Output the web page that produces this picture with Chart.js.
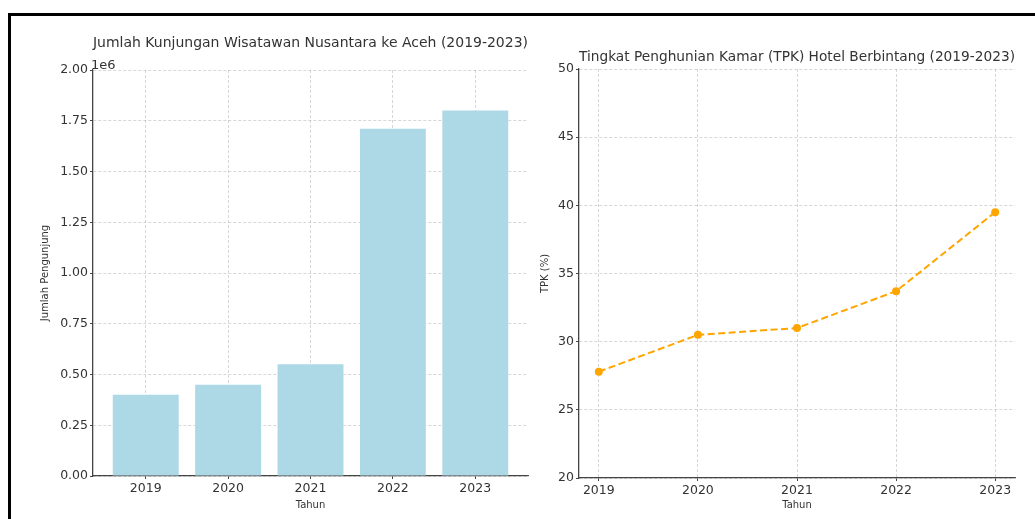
<!DOCTYPE html>
<html>
<head>
<meta charset="utf-8">
<script src="https://cdn.jsdelivr.net/npm/chart.js@4"></script>
<style>
  body { margin: 0; background: #fff; }
  #frame { position: absolute; left: 8px; top: 13px; width: 1100px; height: 600px;
           border-top: 3px solid #000; border-left: 3px solid #000; }
  #left { position: absolute; left: 0; top: 0; }
  #right { position: absolute; left: 530px; top: 0; }
</style>
</head>
<body>
<div id="frame"></div>
<canvas id="left" width="530" height="519"></canvas>
<canvas id="right" width="505" height="519"></canvas>
<script>
// data
const years = ['2019', '2020', '2021', '2022', '2023'];
const visitors = [400000, 450000, 550000, 1710000, 1800000];
const tpk = [27.8, 30.5, 31.0, 33.7, 39.5];
const visitorTicks = [0, 250000, 500000, 750000, 1000000, 1250000, 1500000, 1750000, 2000000];
const tpkTicks = [20, 25, 30, 35, 40, 45, 50];

const font = 'DejaVu Sans';
const textColor = '#333';
const gridColor = 'rgba(170,170,170,0.6)';

Chart.defaults.font.family = font;
Chart.defaults.color = textColor;
Chart.defaults.animation = false;

// matplotlib style offset text "1e6"
const offsetText = {
  id: 'offsetText',
  afterDraw(chart) {
    if (chart.canvas.id !== 'left') return;
    const ctx = chart.ctx;
    ctx.save();
    ctx.font = '13px "' + font + '"';
    ctx.fillStyle = textColor;
    ctx.textAlign = 'left';
    ctx.textBaseline = 'alphabetic';
    ctx.fillText('1e6', chart.chartArea.left - 2, chart.chartArea.top - 1);
    ctx.restore();
  }
};

function xAxis(min, max, h) {
  return {
    type: 'linear',
    min: min,
    max: max,
    offset: false,
    z: 1,
    afterBuildTicks: s => { s.ticks = years.map((_, i) => ({ value: i })); },
    afterFit: s => { s.height = h; },
    ticks: { callback: v => years[v], font: { size: 12.5 }, padding: 2, color: textColor },
    grid: { offset: false, color: gridColor, lineWidth: 0.8, drawTicks: true, tickLength: 3,
            tickColor: '#444', tickBorderDash: [], tickWidth: 1 },
    border: { display: true, color: '#444', width: 1.3, dash: [3, 2] },
    title: { display: true, text: 'Tahun', font: { size: 10 }, padding: { top: 0, bottom: 8 } }
  };
}

function yAxis(min, max, ticks, fmt, label, titlePad, width) {
  return {
    min: min,
    max: max,
    z: 1,
    afterBuildTicks: s => { s.ticks = ticks.map(v => ({ value: v })); },
    afterFit: s => { s.width = width; },
    ticks: { callback: fmt, font: { size: 12.5 }, padding: 2, color: textColor },
    grid: { color: gridColor, lineWidth: 0.8, drawTicks: true, tickLength: 3,
            tickColor: '#444', tickBorderDash: [], tickWidth: 1 },
    border: { display: true, color: '#444', width: 1.3, dash: [3, 2] },
    title: { display: true, text: label, font: { size: 10 }, padding: { top: titlePad, bottom: 0 } }
  };
}

new Chart(document.getElementById('left'), {
  type: 'bar',
  data: {
    datasets: [{
      data: visitors.map((v, i) => ({ x: i, y: v })),
      backgroundColor: '#ADD8E6',
      barPercentage: 0.8,
      categoryPercentage: 1
    }]
  },
  options: {
    responsive: false,
    devicePixelRatio: 1,
    layout: { padding: { left: 0, right: 2, top: 0, bottom: 0 } },
    plugins: {
      legend: { display: false },
      tooltip: { enabled: false },
      title: {
        display: true, fullSize: false,
        text: 'Jumlah Kunjungan Wisatawan Nusantara ke Aceh (2019-2023)',
        font: { size: 14, weight: 'normal' }, color: textColor,
        padding: { top: 35, bottom: 18.2 }
      }
    },
    scales: {
      x: xAxis(-0.64, 4.64, 43),
      y: yAxis(0, 2000000, visitorTicks, v => (v / 1e6).toFixed(2), 'Jumlah Pengunjung', 39.5, 93)
    }
  },
  plugins: [offsetText]
});

new Chart(document.getElementById('right'), {
  type: 'line',
  data: {
    datasets: [{
      data: tpk.map((v, i) => ({ x: i, y: v })),
      borderColor: '#FFA500',
      backgroundColor: '#FFA500',
      borderWidth: 2,
      borderDash: [7, 3.5],
      pointRadius: 4,
      pointBorderWidth: 0,
      pointBackgroundColor: '#FFA500',
      tension: 0,
      fill: false
    }]
  },
  options: {
    responsive: false,
    devicePixelRatio: 1,
    layout: { padding: { left: 0, right: 20, top: 0, bottom: 0 } },
    plugins: {
      legend: { display: false },
      tooltip: { enabled: false },
      title: {
        display: true, fullSize: false,
        text: 'Tingkat Penghunian Kamar (TPK) Hotel Berbintang (2019-2023)',
        font: { size: 14, weight: 'normal' }, color: textColor,
        padding: { top: 48.6, bottom: 3.6 }
      }
    },
    scales: {
      x: Object.assign(xAxis(-0.2, 4.2, 41), { z: 0 }),
      y: Object.assign(yAxis(20, 50, tpkTicks, v => String(v), 'TPK (%)', 9, 49), { z: 0 })
    }
  }
});
</script>
</body>
</html>
